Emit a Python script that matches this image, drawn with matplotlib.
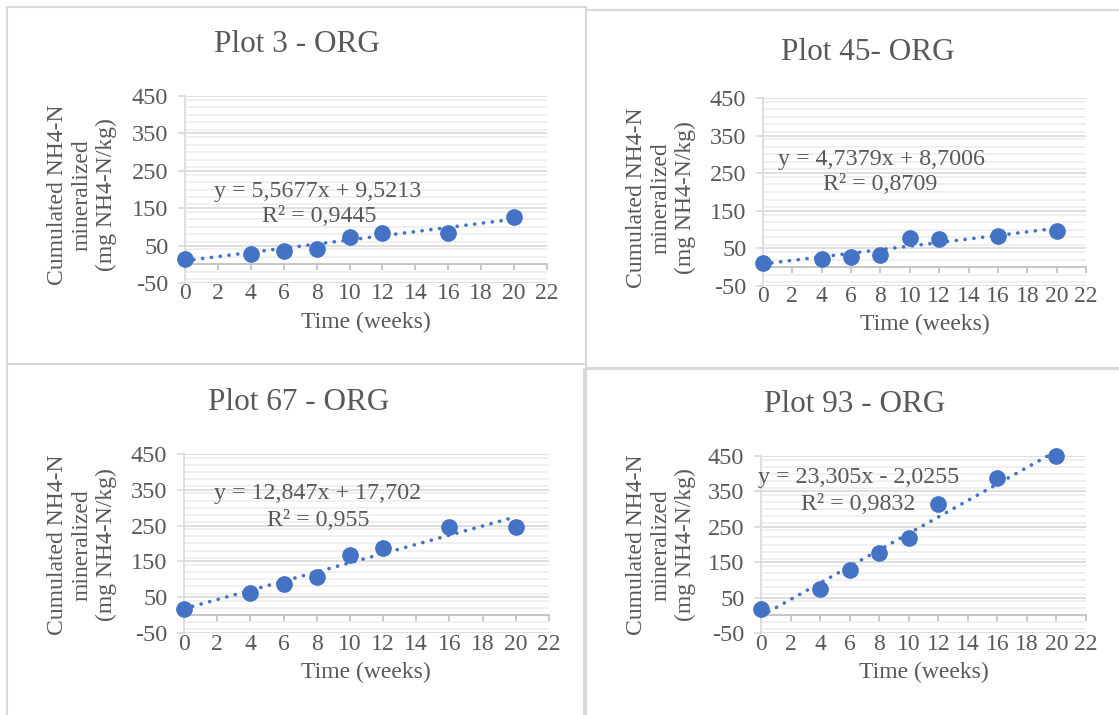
import numpy as np
import matplotlib
matplotlib.use("Agg")
import matplotlib.pyplot as plt
from matplotlib.patches import Rectangle
from matplotlib.ticker import MultipleLocator

W, H = 1119, 715

weeks = [0, 4, 6, 8, 10, 12, 16, 20]
plot3 = [14, 28, 35, 42, 73, 84, 84, 126]
plot45 = [11, 22, 26, 33, 77, 76, 83, 97]
plot67 = [18, 62, 86, 107, 167, 187, 246, 246]
plot93 = [18, 75, 127, 176, 218, 314, 388, 450]

titles = ["Plot 3 - ORG", "Plot 45- ORG", "Plot 67 - ORG", "Plot 93 - ORG"]
slopes = [5.5677, 4.7379, 12.847, 23.305]
intercepts = [9.5213, 8.7006, 17.702, -2.0255]
eq_labels = ["y = 5,5677x + 9,5213", "y = 4,7379x + 8,7006",
             "y = 12,847x + 17,702", "y = 23,305x - 2,0255"]
r2_labels = ["R² = 0,9445", "R² = 0,8709", "R² = 0,955", "R² = 0,9832"]

x_ticks = list(range(0, 23, 2))
y_ticks = [-50, 50, 150, 250, 350, 450]

blue = "#4472C4"
txt = "#595959"
plt.rcParams["font.family"] = ["Liberation Serif", "DejaVu Serif"]
plt.rcParams["axes.unicode_minus"] = False


def fx(x):
    return x / W


def fy(y):
    return 1 - y / H


# pixel layout: plot area (x0, x22, y450, y-50), title, eq, r2, ylabel, xlabel
layout = [
    dict(area=(185, 547, 96, 283), title=(297, 45), eq=(318, 191), r2=(319, 216), yl=(82, 195), xl=(366, 322)),
    dict(area=(763, 1086, 98, 286), title=(868, 52), eq=(882, 159), r2=(880, 185), yl=(661, 198), xl=(925, 324)),
    dict(area=(184, 549, 454, 633), title=(299, 403), eq=(318, 494), r2=(318, 520), yl=(82, 545), xl=(366, 672)),
    dict(area=(761, 1086, 456, 633), title=(855, 405), eq=(859, 478), r2=(858, 505), yl=(661, 545), xl=(924, 672)),
]
boxes = [(7, 7, 586, 364), (586, 10, 1125, 368), (7, 364, 586, 720), (584, 369, 1125, 720)]
series = [plot3, plot45, plot67, plot93]

fig = plt.figure(figsize=(W / 100, H / 100), dpi=100)

for b in boxes:
    fig.patches.append(Rectangle((fx(b[0]), fy(b[3])), fx(b[2] - b[0]), (b[3] - b[1]) / H,
                                 transform=fig.transFigure, fill=False,
                                 edgecolor="#D9D9D9", linewidth=1.5))

for i, lay in enumerate(layout):
    x0, x1, ytop, ybot = lay["area"]
    ax = fig.add_axes([fx(x0), fy(ybot), fx(x1 - x0), (ybot - ytop) / H])
    ax.set_xlim(0, 22)
    ax.set_ylim(-50, 450)

    ax.yaxis.set_major_locator(plt.FixedLocator(y_ticks))
    ax.yaxis.set_minor_locator(MultipleLocator(20))
    ax.set_xticks(x_ticks)
    ax.grid(axis="y", which="major", color="#D9D9D9", linewidth=1.2, zorder=0)
    ax.grid(axis="y", which="minor", color="#EDEDED", linewidth=1.2, zorder=0)
    ax.tick_params(axis="y", which="minor", length=0)

    for s in ["top", "right"]:
        ax.spines[s].set_visible(False)
    ax.spines["bottom"].set_position(("data", 0))
    ax.spines["bottom"].set_color("#BFBFBF")
    ax.spines["left"].set_color("#D9D9D9")
    ax.spines["bottom"].set_linewidth(1.2)
    ax.spines["left"].set_linewidth(1.2)
    ax.tick_params(axis="x", direction="out", length=4.5, width=1.2, color="#BFBFBF",
                   pad=9, labelsize=17, labelcolor=txt)
    ax.tick_params(axis="y", which="major", direction="out", length=5, width=1.2,
                   color="#D9D9D9", pad=7, labelsize=17.5, labelcolor=txt)

    y = series[i]
    tx = np.array([weeks[0], weeks[-1]])
    ax.plot(tx, slopes[i] * tx + intercepts[i], color=blue, linewidth=2.6,
            linestyle=(0, (0.05, 2.4)), dash_capstyle="round", zorder=3, clip_on=False)
    ax.plot(weeks, y, "o", color=blue, markersize=11, zorder=4, clip_on=False)

    fig.text(fx(lay["title"][0]), fy(lay["title"][1]), titles[i], ha="center", va="center",
             fontsize=22.5, color=txt)
    fig.text(fx(lay["eq"][0]), fy(lay["eq"][1]), eq_labels[i], ha="center", va="center",
             fontsize=17.3, color=txt)
    fig.text(fx(lay["r2"][0]), fy(lay["r2"][1]), r2_labels[i], ha="center", va="center",
             fontsize=17.3, color=txt)
    fig.text(fx(lay["yl"][0]), fy(lay["yl"][1]), "Cumulated NH4-N\nmineralized\n(mg NH4-N/kg)",
             rotation=90, ha="center", va="center", multialignment="center",
             fontsize=17, color=txt, linespacing=1.2)
    fig.text(fx(lay["xl"][0]), fy(lay["xl"][1]), "Time (weeks)", ha="center", va="center",
             fontsize=17, color=txt)

fig.savefig("out.png", dpi=100)
